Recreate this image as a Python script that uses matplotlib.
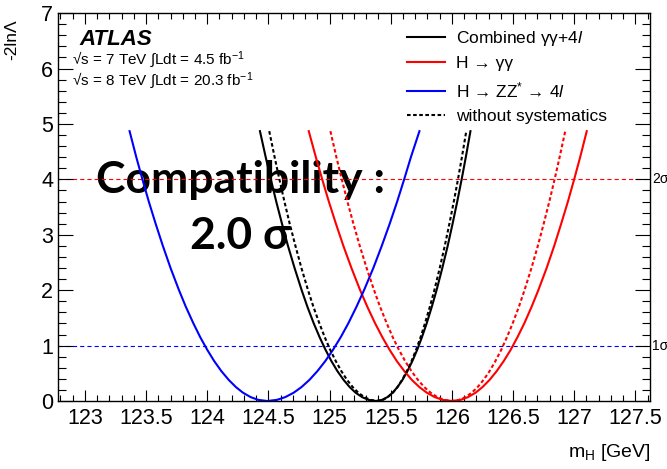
import matplotlib
matplotlib.use("Agg")
import matplotlib.pyplot as plt
from matplotlib.ticker import MultipleLocator

plt.rcParams['font.family'] = ['Liberation Sans', 'DejaVu Sans']
plt.rcParams['mathtext.fontset'] = 'custom'
plt.rcParams['mathtext.rm'] = 'Liberation Sans'
plt.rcParams['mathtext.it'] = 'Liberation Sans:italic'
plt.rcParams['mathtext.bf'] = 'Liberation Sans:bold'
plt.rcParams['lines.scale_dashes'] = False

nll = [4.87, 4.4, 4.0, 3.6, 3.2, 2.8, 2.4, 2.0, 1.7, 1.4, 1.15, 0.92, 0.72, 0.54, 0.38,
       0.25, 0.15, 0.07, 0.02, 0.0,
       0.02, 0.07, 0.15, 0.25, 0.38, 0.54, 0.72, 0.92, 1.15, 1.4, 1.7, 2.0, 2.4, 2.8,
       3.2, 3.6, 4.0, 4.4, 4.87]

# m_H [GeV] at those levels
mh_comb = [124.431, 124.478, 124.520, 124.564, 124.611, 124.660, 124.714, 124.772, 124.819, 124.871,
           124.919, 124.968, 125.015, 125.064, 125.115, 125.165, 125.213, 125.266, 125.319, 125.380,
           125.429, 125.473, 125.516, 125.555, 125.596, 125.637, 125.677, 125.716, 125.755, 125.794,
           125.836, 125.875, 125.922, 125.966, 126.006, 126.044, 126.080, 126.114, 126.152]
mh_comb_nosys = [124.507, 124.551, 124.590, 124.631, 124.674, 124.721, 124.770, 124.824, 124.868, 124.917,
                 124.961, 125.006, 125.051, 125.096, 125.143, 125.190, 125.235, 125.284, 125.333, 125.390,
                 125.437, 125.477, 125.518, 125.555, 125.593, 125.632, 125.670, 125.707, 125.744, 125.780,
                 125.820, 125.857, 125.901, 125.942, 125.980, 126.016, 126.050, 126.082, 126.118]
mh_gg = [124.830, 124.888, 124.940, 124.994, 125.052, 125.113, 125.179, 125.250, 125.309, 125.373,
         125.432, 125.492, 125.550, 125.611, 125.673, 125.735, 125.795, 125.860, 125.925, 126.000,
         126.071, 126.132, 126.194, 126.250, 126.308, 126.367, 126.424, 126.480, 126.536, 126.592,
         126.652, 126.707, 126.775, 126.837, 126.894, 126.949, 127.000, 127.049, 127.103]
mh_gg_nosys = [125.007, 125.056, 125.100, 125.146, 125.195, 125.247, 125.303, 125.364, 125.413, 125.468,
               125.517, 125.568, 125.618, 125.669, 125.723, 125.775, 125.826, 125.881, 125.936, 126.000,
               126.059, 126.111, 126.163, 126.210, 126.259, 126.309, 126.356, 126.403, 126.450, 126.497,
               126.548, 126.594, 126.651, 126.703, 126.751, 126.797, 126.840, 126.881, 126.927]
mh_4l = [123.365, 123.420, 123.470, 123.522, 123.578, 123.637, 123.700, 123.769, 123.825, 123.887,
         123.943, 124.001, 124.057, 124.115, 124.176, 124.235, 124.292, 124.355, 124.418, 124.490,
         124.569, 124.638, 124.707, 124.770, 124.835, 124.901, 124.965, 125.027, 125.091, 125.153,
         125.220, 125.282, 125.358, 125.427, 125.492, 125.553, 125.610, 125.665, 125.735]

sigma_levels = [1, 4]
sigma_labels = ["1σ", "2σ"]
sigma_colors = ["blue", "red"]

xtick_vals = [123, 123.5, 124, 124.5, 125, 125.5, 126, 126.5, 127, 127.5]
xtick_labels = ["123", "123.5", "124", "124.5", "125", "125.5", "126", "126.5", "127", "127.5"]

fig = plt.figure(figsize=(6.67, 4.69), dpi=100)
ax = fig.add_axes([0.087, 0.145, 0.8875, 0.827])

dash = (0, (2.6, 1.8))
ax.plot(mh_comb, nll, color="black", lw=1.5, label=r"Combined γγ+4$\mathit{l}$")
ax.plot(mh_gg, nll, color="red", lw=1.5, label="H → γγ")
ax.plot(mh_4l, nll, color="blue", lw=1.5, label=r"H → ZZ$^{*}$ → 4$\mathit{l}$")
ax.plot(mh_comb_nosys, nll, color="black", lw=1.5, ls=dash, label="without systematics")
ax.plot(mh_gg_nosys, nll, color="red", lw=1.5, ls=dash)

for lev, lab, col in zip(sigma_levels, sigma_labels, sigma_colors):
    ax.axhline(lev, color=col, lw=0.8, ls=(0, (3, 2.2)), zorder=1)
    ax.text(1.003, lev, lab, transform=ax.get_yaxis_transform(), fontsize=10,
            ha="left", va="center", clip_on=False)

ax.set_xlim(122.78, 127.62)
ax.set_ylim(0, 7)
ax.xaxis.set_minor_locator(MultipleLocator(0.1))
ax.yaxis.set_major_locator(MultipleLocator(1))
ax.yaxis.set_minor_locator(MultipleLocator(0.2))
ax.set_xticks(xtick_vals)
ax.set_xticklabels(xtick_labels)
ax.tick_params(axis="x", which="major", direction="in", top=True, length=8, width=0.8, pad=5, labelsize=15.5)
ax.tick_params(axis="x", which="minor", direction="in", top=True, length=4, width=0.8)
ax.tick_params(axis="y", which="major", direction="in", right=True, length=11, width=0.8, pad=3.5, labelsize=15.5)
ax.tick_params(axis="y", which="minor", direction="in", right=True, length=5.5, width=0.8)
for s in ax.spines.values():
    s.set_linewidth(1.0)

fig.text(0.018, 0.958, "-2lnΛ", rotation=90, ha="center", va="top", fontsize=12.5)
fig.text(0.975, 0.025, r"m$_\mathrm{H}$ [GeV]", ha="right", va="baseline", fontsize=14)

ax.text(0.037, 0.918, "ATLAS", transform=ax.transAxes, fontsize=16,
        fontweight="bold", fontstyle="italic")
ax.text(0.024, 0.868, "√s = 7 TeV ∫Ldt = 4.5 fb$^{-1}$", transform=ax.transAxes, fontsize=11)
ax.text(0.024, 0.815, "√s = 8 TeV ∫Ldt = 20.3 fb$^{-1}$", transform=ax.transAxes, fontsize=11)

ax.text(0.308, 0.535, "Compatibility :", transform=ax.transAxes, fontsize=32,
        fontweight="bold", family="Lato", ha="center", va="baseline", zorder=0)
ax.text(0.308, 0.393, "2.0 σ", transform=ax.transAxes, fontsize=32,
        fontweight="bold", family=["Lato", "DejaVu Sans"], ha="center", va="baseline", zorder=0)

ax.legend(loc="upper left", bbox_to_anchor=(0.59, 0.96), frameon=False, fontsize=12.5,
          handlelength=2.2, handletextpad=0.6, labelspacing=0.5, borderpad=0, borderaxespad=0)

fig.savefig("out.png", dpi=100)
